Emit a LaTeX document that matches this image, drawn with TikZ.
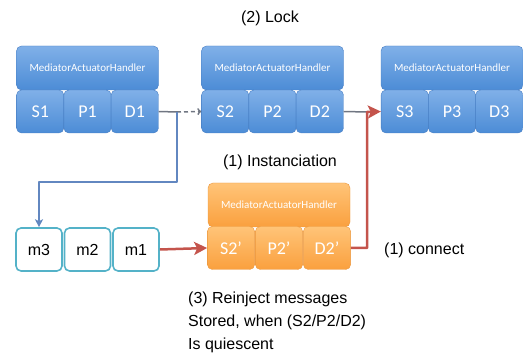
\documentclass[tikz,border=0pt]{standalone}
\usepackage{fontspec}
\setmainfont{Liberation Sans}
\newfontfamily\calfont{Carlito}
\usetikzlibrary{arrows.meta}
\definecolor{blueT}{RGB}{128,176,232}
\definecolor{blueB}{RGB}{76,140,214}
\definecolor{blueE}{RGB}{70,125,195}
\definecolor{orT}{RGB}{255,196,120}
\definecolor{orB}{RGB}{250,160,62}
\definecolor{orE}{RGB}{235,150,60}
\definecolor{msgE}{RGB}{84,178,200}
\definecolor{arrRed}{RGB}{196,84,76}
\definecolor{arrBlue}{RGB}{98,135,192}
\definecolor{arrGray}{RGB}{112,118,130}
\tikzset{
 hdr/.style={rounded corners=5pt,minimum width=142pt,minimum height=44pt,inner sep=0pt,text=white,font=\calfont\fontsize{11}{12}\selectfont},
 cell/.style={rounded corners=5pt,minimum width=47.3pt,minimum height=43pt,inner sep=0pt,text=white,font=\calfont\fontsize{18}{20}\selectfont},
 bluebox/.style={top color=blueT,bottom color=blueB,draw=blueE,line width=0.4pt},
 orbox/.style={top color=orT,bottom color=orB,draw=orE,line width=0.4pt},
 msg/.style={draw=msgE,line width=1.6pt,fill=white,rounded corners=5pt,minimum width=46pt,minimum height=43pt,inner sep=0pt,font=\fontsize{16}{18}\selectfont},
 lbl/.style={font=\fontsize{16}{23}\selectfont,inner sep=0pt},
 redarr/.style={arrRed,line width=2.5pt,-{Stealth[length=13pt,width=13pt,inset=3pt]}},
 bluearr/.style={arrBlue,line width=1.5pt,-{Stealth[length=8pt,width=8pt,inset=2pt]}},
 grayline/.style={arrGray,line width=1.5pt}
}
\begin{document}
\begin{tikzpicture}[x=1pt,y=-1pt,line join=round]
 \useasboundingbox (0,0) rectangle (523,358);
 % handlers on top
 \foreach \i/\x in {1/87.5,2/272.5,3/452}{
 \node[hdr,bluebox] (h\i) at (\x,68) {MediatorActuatorHandler};
 \node[cell,bluebox] (s\i) at (\x-47.3,111.5) {S\i};
 \node[cell,bluebox] (p\i) at (\x,111.5) {P\i};
 \node[cell,bluebox] (d\i) at (\x+47.3,111.5) {D\i};
 }
 % new handler
 \node[hdr,orbox] (h2n) at (279,205) {MediatorActuatorHandler};
 \node[cell,orbox] (s2n) at (231,248) {S2’};
 \node[cell,orbox] (p2n) at (279,248) {P2’};
 \node[cell,orbox] (d2n) at (327,248) {D2’};
 % stored messages
 \node[msg] (m3) at (39,249.5) {m3};
 \node[msg] (m2) at (87.5,249.5) {m2};
 \node[msg] (m1) at (136,249.5) {m1};
 % labels
 \node[lbl] (lock) at (270,18) {(2) Lock};
 \node[lbl] (inst) at (280,162) {(1) Instanciation};
 \node[lbl,anchor=west] (conn) at (384,250) {(1) connect};
 \node[lbl,anchor=north west,align=left] (reinj) at (188,292) {(3) Reinject messages\\Stored, when (S2/P2/D2)\\Is quiescent};
 % connectors
 \coordinate (j1) at (177,112);
 \coordinate (j2) at (177,182);
 \coordinate (j3) at (367,112);
 \draw[grayline] (d1.east) -- (j1);
 \draw[grayline,dash pattern=on 4pt off 3pt,-{To[length=4pt,width=7pt]}] (j1) -- (s2.west);
 \draw[bluearr] (j1) -- (j2) -| (m3.north);
 \draw[grayline] (d2.east) -- (j3);
 \draw[redarr] (m1.east) -- (s2n.west);
 \draw[redarr] (d2n.east) -| (j3) -- (s3.west);
\end{tikzpicture}
\end{document}
